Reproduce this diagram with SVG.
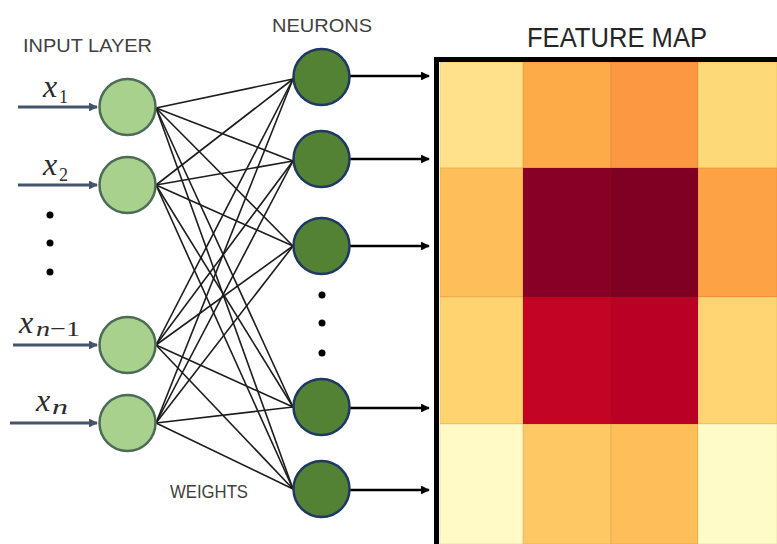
<svg xmlns="http://www.w3.org/2000/svg" width="777" height="544" viewBox="0 0 777 544">
  <style>
    .lbl { font-family: "Liberation Sans", Arial, sans-serif; fill: #3f3f3f; }
    .math { font-family: "Liberation Serif", "DejaVu Serif", serif; font-style: italic; fill: #2b2b2b; }
    .in { fill: #a9d18e; stroke: #4e6b58; stroke-width: 2.5; }
    .hid { fill: #548235; stroke: #1f3864; stroke-width: 2.5; }
    .w { stroke: #1c1c1c; stroke-width: 1.6; fill: none; }
    .inArrow { stroke: #44546a; stroke-width: 2.8; fill: none; }
    .outArrow { stroke: #000; stroke-width: 2.6; fill: none; }
    .dot { fill: #000; }
    .cell { stroke: rgba(120,60,0,0.12); stroke-width: 1; }
  </style>
  <defs>
    <marker id="headIn" viewBox="0 0 10 10" refX="9" refY="5" markerWidth="3.4" markerHeight="3.2" orient="auto" markerUnits="strokeWidth">
      <path d="M0,0 L10,5 L0,10 z" fill="#44546a"/>
    </marker>
    <marker id="headOut" viewBox="0 0 10 10" refX="9" refY="5" markerWidth="3.6" markerHeight="3.4" orient="auto" markerUnits="strokeWidth">
      <path d="M0,0 L10,5 L0,10 z" fill="#000"/>
    </marker>
  </defs>

  <rect width="777" height="544" fill="#ffffff"/>

  <!-- titles -->
  <text class="lbl" x="23" y="52" font-size="19" textLength="129" lengthAdjust="spacingAndGlyphs">INPUT LAYER</text>
  <text class="lbl" x="272" y="32" font-size="19" textLength="100" lengthAdjust="spacingAndGlyphs">NEURONS</text>
  <text class="lbl" x="170" y="498" font-size="19" textLength="78" lengthAdjust="spacingAndGlyphs">WEIGHTS</text>
  <text class="lbl" x="527" y="47" font-size="27" style="fill:#262626" textLength="180" lengthAdjust="spacingAndGlyphs">FEATURE MAP</text>

  <!-- weights: every input joined to every neuron -->
  <g id="connectors">
    <g class="w">
      <line x1="156" y1="108" x2="293" y2="79"/>
      <line x1="156" y1="108" x2="293" y2="161"/>
      <line x1="156" y1="108" x2="293" y2="246"/>
      <line x1="156" y1="108" x2="293" y2="407"/>
      <line x1="156" y1="108" x2="293" y2="489"/>
      <line x1="156" y1="185" x2="293" y2="79"/>
      <line x1="156" y1="185" x2="293" y2="161"/>
      <line x1="156" y1="185" x2="293" y2="246"/>
      <line x1="156" y1="185" x2="293" y2="407"/>
      <line x1="156" y1="185" x2="293" y2="489"/>
      <line x1="156" y1="345" x2="293" y2="79"/>
      <line x1="156" y1="345" x2="293" y2="161"/>
      <line x1="156" y1="345" x2="293" y2="246"/>
      <line x1="156" y1="345" x2="293" y2="407"/>
      <line x1="156" y1="345" x2="293" y2="489"/>
      <line x1="156" y1="423" x2="293" y2="79"/>
      <line x1="156" y1="423" x2="293" y2="161"/>
      <line x1="156" y1="423" x2="293" y2="246"/>
      <line x1="156" y1="423" x2="293" y2="407"/>
      <line x1="156" y1="423" x2="293" y2="489"/>
    </g>
    <!-- input arrows -->
    <line class="inArrow" x1="18" y1="107" x2="97" y2="107" marker-end="url(#headIn)"/>
    <line class="inArrow" x1="18" y1="185" x2="97" y2="185" marker-end="url(#headIn)"/>
    <line class="inArrow" x1="13" y1="345" x2="97" y2="345" marker-end="url(#headIn)"/>
    <line class="inArrow" x1="10" y1="423" x2="97" y2="423" marker-end="url(#headIn)"/>
    <!-- output arrows -->
    <line class="outArrow" x1="350" y1="76" x2="429" y2="76" marker-end="url(#headOut)"/>
    <line class="outArrow" x1="350" y1="159" x2="429" y2="159" marker-end="url(#headOut)"/>
    <line class="outArrow" x1="350" y1="246" x2="429" y2="246" marker-end="url(#headOut)"/>
    <line class="outArrow" x1="350" y1="408" x2="429" y2="408" marker-end="url(#headOut)"/>
    <line class="outArrow" x1="350" y1="490" x2="429" y2="490" marker-end="url(#headOut)"/>
  </g>

  <!-- input layer -->
  <g id="input-1">
    <circle class="in" cx="127.5" cy="107" r="28"/>
    <text class="math" x="43" y="97" font-size="32">x</text>
    <text class="math" x="59" y="103" font-size="18" style="font-style:normal">1</text>
  </g>
  <g id="input-2">
    <circle class="in" cx="127.5" cy="185" r="28"/>
    <text class="math" x="43" y="175" font-size="32">x</text>
    <text class="math" x="59" y="181" font-size="18" style="font-style:normal">2</text>
  </g>
  <g id="input-dots">
    <circle class="dot" cx="50" cy="215" r="3.5"/>
    <circle class="dot" cx="50" cy="243" r="3.5"/>
    <circle class="dot" cx="50" cy="272" r="3.5"/>
  </g>
  <g id="input-n-1">
    <circle class="in" cx="127.5" cy="345" r="28"/>
    <text class="math" x="19" y="333" font-size="32">x</text>
    <text class="math" x="36" y="336" font-size="22" textLength="44" lengthAdjust="spacingAndGlyphs">n<tspan style="font-style:normal">−1</tspan></text>
  </g>
  <g id="input-n">
    <circle class="in" cx="127.5" cy="423" r="28"/>
    <text class="math" x="36" y="411" font-size="32">x</text>
    <text class="math" x="52" y="414" font-size="22" textLength="16" lengthAdjust="spacingAndGlyphs">n</text>
  </g>

  <!-- neurons -->
  <g id="neuron-1"><circle class="hid" cx="321.5" cy="77" r="28"/></g>
  <g id="neuron-2"><circle class="hid" cx="321.5" cy="159" r="28"/></g>
  <g id="neuron-3"><circle class="hid" cx="321.5" cy="246" r="28"/></g>
  <g id="neuron-dots">
    <circle class="dot" cx="322" cy="295" r="3.5"/>
    <circle class="dot" cx="322" cy="323" r="3.5"/>
    <circle class="dot" cx="322" cy="353" r="3.5"/>
  </g>
  <g id="neuron-4"><circle class="hid" cx="321.5" cy="407" r="28"/></g>
  <g id="neuron-5"><circle class="hid" cx="321.5" cy="489" r="28"/></g>

  <!-- feature map heat grid -->
  <g id="feature-map">
    <rect class="cell" x="440" y="62" width="83" height="106" fill="#fee18a"/>
    <rect class="cell" x="523" y="62" width="88" height="106" fill="#fdab49"/>
    <rect class="cell" x="611" y="62" width="87" height="106" fill="#fc9841"/>
    <rect class="cell" x="698" y="62" width="79" height="106" fill="#fed978"/>

    <rect class="cell" x="440" y="168" width="83" height="129" fill="#febf5b"/>
    <rect class="cell" x="523" y="168" width="88" height="129" fill="#890026"/>
    <rect class="cell" x="611" y="168" width="87" height="129" fill="#800024"/>
    <rect class="cell" x="698" y="168" width="79" height="129" fill="#fda345"/>

    <rect class="cell" x="440" y="297" width="83" height="127" fill="#fed370"/>
    <rect class="cell" x="523" y="297" width="88" height="127" fill="#c30424"/>
    <rect class="cell" x="611" y="297" width="87" height="127" fill="#bb0026"/>
    <rect class="cell" x="698" y="297" width="79" height="127" fill="#fed572"/>

    <rect class="cell" x="440" y="424" width="83" height="120" fill="#fffac6"/>
    <rect class="cell" x="523" y="424" width="88" height="120" fill="#fec964"/>
    <rect class="cell" x="611" y="424" width="87" height="120" fill="#febe59"/>
    <rect class="cell" x="698" y="424" width="79" height="120" fill="#fffbc8"/>

    <path d="M436.5,546 V59.5 H780" fill="none" stroke="#000" stroke-width="5"/>
  </g>
</svg>
